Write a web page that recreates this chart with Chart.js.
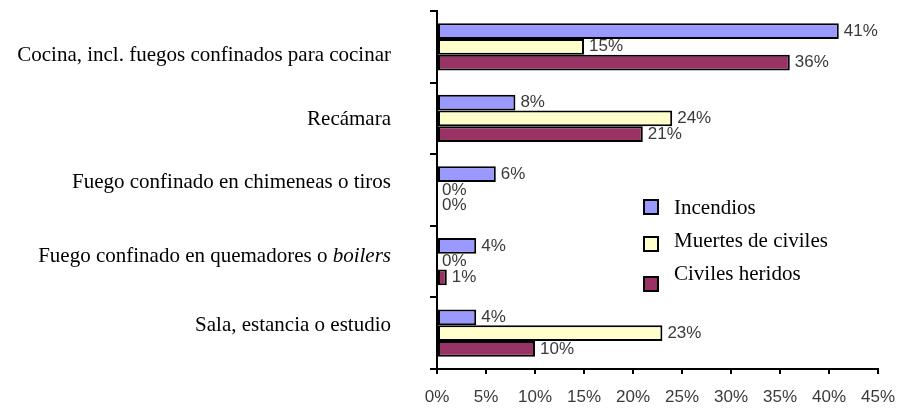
<!DOCTYPE html>
<html>
<head>
<meta charset="utf-8">
<script src="https://cdn.jsdelivr.net/npm/chart.js@4/dist/chart.umd.min.js"></script>
<style>
  html, body { margin: 0; padding: 0; background: #fff; }
  #wrap { width: 908px; height: 408px; }
</style>
</head>
<body>
<div id="wrap"><canvas id="chart" width="908" height="408"></canvas></div>
<script>
// categories (the 4th one has an italic word at the end)
const categories = [
    'Cocina, incl. fuegos confinados para cocinar',
    'Recámara',
    'Fuego confinado en chimeneas o tiros',
    'Fuego confinado en quemadores o ',
    'Sala, estancia o estudio'
];
const categoryItalic = ['', '', '', 'boilers', ''];

const seriesNames = ['Incendios', 'Muertes de civiles', 'Civiles heridos'];
const incendios = [41, 8, 6, 4, 4];
const muertes = [15, 24, 0, 0, 23];
const heridos = [36, 21, 0, 1, 10];

const xTicks = [0, 5, 10, 15, 20, 25, 30, 35, 40, 45];

const colors = ['#9999FF', '#FFFFCC', '#993366'];
const serif = '"Liberation Serif", "Times New Roman", serif';
const sans = '"Liberation Sans", Arial, sans-serif';

// value labels at the end of each bar
const valueLabels = {
    id: 'valueLabels',
    afterDatasetsDraw(chart) {
        const ctx = chart.ctx;
        ctx.save();
        ctx.font = '17px ' + sans;
        ctx.fillStyle = '#3a3a3a';
        ctx.textAlign = 'left';
        ctx.textBaseline = 'middle';
        chart.data.datasets.forEach((ds, i) => {
            chart.getDatasetMeta(i).data.forEach((bar, j) => {
                ctx.fillText(ds.data[j] + '%', bar.x + 5, bar.y);
            });
        });
        ctx.restore();
    }
};

// category labels drawn by hand so one word can be italic
const categoryLabels = {
    id: 'categoryLabels',
    afterDraw(chart) {
        const ctx = chart.ctx;
        const yScale = chart.scales.y;
        const right = chart.chartArea.left - 46;
        // baseline shift from each category centre, as placed in the original
        const nudge = [14, 7, -2, 0, -2];
        ctx.save();
        ctx.fillStyle = '#000';
        ctx.textBaseline = 'alphabetic';
        ctx.textAlign = 'left';
        categories.forEach((label, i) => {
            const y = yScale.getPixelForValue(i) + nudge[i];
            ctx.font = '21px ' + serif;
            const w1 = ctx.measureText(label).width;
            ctx.font = 'italic 21px ' + serif;
            const w2 = ctx.measureText(categoryItalic[i]).width;
            const x0 = right - w1 - w2;
            ctx.font = '21px ' + serif;
            ctx.fillText(label, x0, y);
            if (categoryItalic[i]) {
                ctx.font = 'italic 21px ' + serif;
                ctx.fillText(categoryItalic[i], x0 + w1, y);
            }
        });
        ctx.restore();
    }
};

// legend inside the plot area
const boxLegend = {
    id: 'boxLegend',
    afterDraw(chart) {
        const ctx = chart.ctx;
        const left = chart.chartArea.left + 207;
        const boxTop = [200, 237, 277];
        const textBase = [214, 247, 280];
        ctx.save();
        chart.data.datasets.forEach((ds, i) => {
            ctx.fillStyle = ds.backgroundColor;
            ctx.fillRect(left, boxTop[i], 14, 14);
            ctx.lineWidth = 2;
            ctx.strokeStyle = '#000';
            ctx.strokeRect(left, boxTop[i], 14, 14);
            ctx.fillStyle = '#000';
            ctx.font = '21px ' + serif;
            ctx.textBaseline = 'alphabetic';
            ctx.fillText(ds.label, left + 30, textBase[i]);
        });
        ctx.restore();
    }
};

new Chart(document.getElementById('chart'), {
    type: 'bar',
    data: {
        labels: categories,
        datasets: [
            { label: seriesNames[0], data: incendios, backgroundColor: colors[0] },
            { label: seriesNames[1], data: muertes, backgroundColor: colors[1] },
            { label: seriesNames[2], data: heridos, backgroundColor: colors[2] }
        ]
    },
    options: {
        indexAxis: 'y',
        responsive: false,
        animation: false,
        devicePixelRatio: 1,
        layout: { padding: { top: 11, right: 28, bottom: 0, left: 0 } },
        datasets: {
            bar: {
                borderColor: '#000',
                borderWidth: 2,
                borderSkipped: false,
                categoryPercentage: 0.66,
                barPercentage: 1.0
            }
        },
        plugins: {
            legend: { display: false },
            tooltip: { enabled: false }
        },
        scales: {
            x: {
                min: 0,
                max: 45,
                afterBuildTicks(scale) {
                    scale.ticks = xTicks.map(v => ({ value: v }));
                },
                afterFit(scale) { scale.height = 39; },
                grid: { drawOnChartArea: false, drawTicks: true, tickLength: 5, color: '#000', lineWidth: 2 },
                border: { display: true, color: '#000', width: 2 },
                ticks: {
                    padding: 13,
                    font: { family: sans, size: 17 },
                    color: '#3a3a3a',
                    maxRotation: 0,
                    callback: v => v + '%'
                }
            },
            y: {
                afterFit(scale) { scale.width = 437; },
                grid: { drawOnChartArea: false, drawTicks: true, tickLength: 7, color: '#000', lineWidth: 2, offset: true },
                border: { display: true, color: '#000', width: 2 },
                ticks: { display: false }
            }
        }
    },
    plugins: [valueLabels, categoryLabels, boxLegend]
});
</script>
</body>
</html>
